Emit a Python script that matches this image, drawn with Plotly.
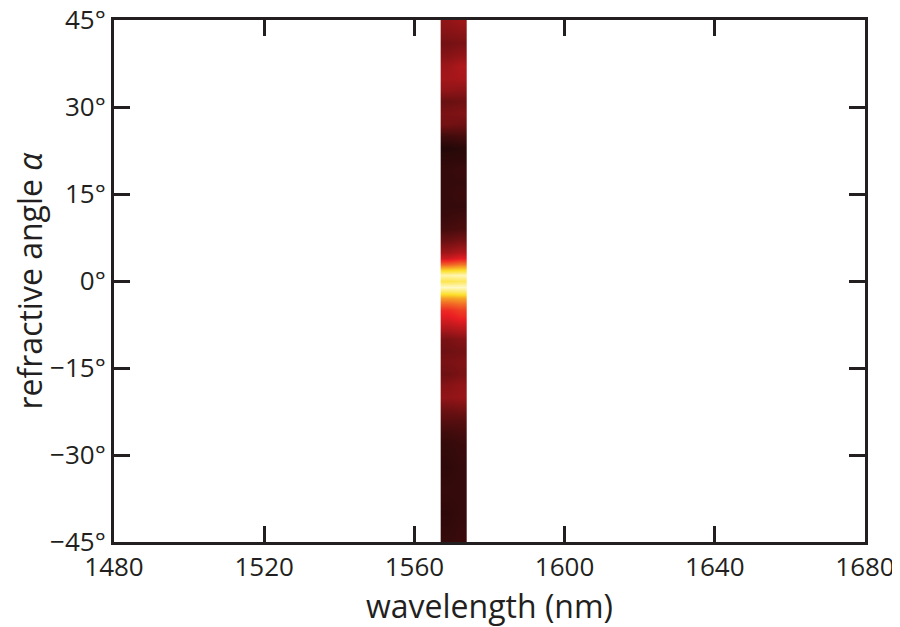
import plotly.graph_objects as go

angles = [45, 43, 41, 39, 37, 35, 33, 31, 29, 27, 25, 23, 21, 19, 17, 15, 13, 11, 9, 7, 5, 4, 3, 2, 1, 0,
          -1, -2, -3, -4, -5, -6, -8, -10, -12, -14, -16, -18, -20, -22, -24, -26, -28, -32, -36, -40, -45]
intensity_left = [0.22, 0.20, 0.17, 0.20, 0.24, 0.25, 0.22, 0.15, 0.18, 0.17, 0.08, 0.03, 0.05, 0.06, 0.06,
                  0.06, 0.06, 0.07, 0.09, 0.15, 0.24, 0.32, 0.50, 0.70, 0.92, 0.80, 0.95, 0.78, 0.62, 0.50,
                  0.40, 0.36, 0.28, 0.18, 0.16, 0.18, 0.16, 0.20, 0.22, 0.16, 0.12, 0.08, 0.06, 0.05, 0.06,
                  0.05, 0.06]
intensity_right = [0.24, 0.21, 0.18, 0.22, 0.27, 0.26, 0.21, 0.16, 0.19, 0.16, 0.09, 0.04, 0.05, 0.07, 0.06,
                   0.07, 0.06, 0.08, 0.10, 0.17, 0.27, 0.36, 0.54, 0.72, 0.93, 0.82, 0.95, 0.80, 0.64, 0.53,
                   0.44, 0.40, 0.30, 0.20, 0.17, 0.19, 0.18, 0.22, 0.23, 0.17, 0.12, 0.09, 0.07, 0.06, 0.06,
                   0.06, 0.07]
wavelength_edges = [1567.0, 1570.5, 1574.0]

x_ticks = [1480, 1520, 1560, 1600, 1640, 1680]
y_ticks = [45, 30, 15, 0, -15, -30, -45]
y_ticktext = ["45°", "30°", "15°", "0°", "\u221215°", "\u221230°", "\u221245°"]

z = [[a, b] for a, b in zip(intensity_left, intensity_right)]

hot = [[0.0, "rgb(18,6,6)"], [0.375, "rgb(235,30,35)"], [0.75, "rgb(252,222,40)"], [1.0, "rgb(255,255,235)"]]

fig = go.Figure(go.Heatmap(
    x=wavelength_edges, y=angles, z=z, colorscale=hot, zmin=0, zmax=1,
    zsmooth="best", showscale=False, hoverinfo="skip"))

ink = "#231f20"
font = dict(family="Open Sans, Noto Sans, sans-serif", size=26, color=ink)

# page body adds an 8px offset, so the figure is sized 892x619
fig.update_layout(
    width=892, height=619, margin=dict(l=106, r=35, t=12, b=85),
    paper_bgcolor="white", plot_bgcolor="white", font=font, showlegend=False,
)
fig.update_xaxes(
    range=[1480, 1680], tickvals=x_ticks, ticktext=[str(v) for v in x_ticks],
    ticks="inside", ticklen=16, tickwidth=3, tickcolor=ink,
    showline=True, linewidth=3, linecolor=ink, mirror="ticks",
    showgrid=False, zeroline=False, automargin=False, ticklabeloverflow="allow",
    title=dict(text="wavelength (nm)", font=dict(size=32, color=ink), standoff=12),
)
fig.update_yaxes(
    range=[-45, 45], tickvals=y_ticks, ticktext=y_ticktext,
    ticks="inside", ticklen=16, tickwidth=3, tickcolor=ink,
    showline=True, linewidth=3, linecolor=ink, mirror="ticks",
    showgrid=False, zeroline=False, automargin=False, ticklabeloverflow="allow",
    title=dict(text="refractive angle <i>α</i>", font=dict(size=32, color=ink), standoff=4),
)

fig.write_html("out.html")
